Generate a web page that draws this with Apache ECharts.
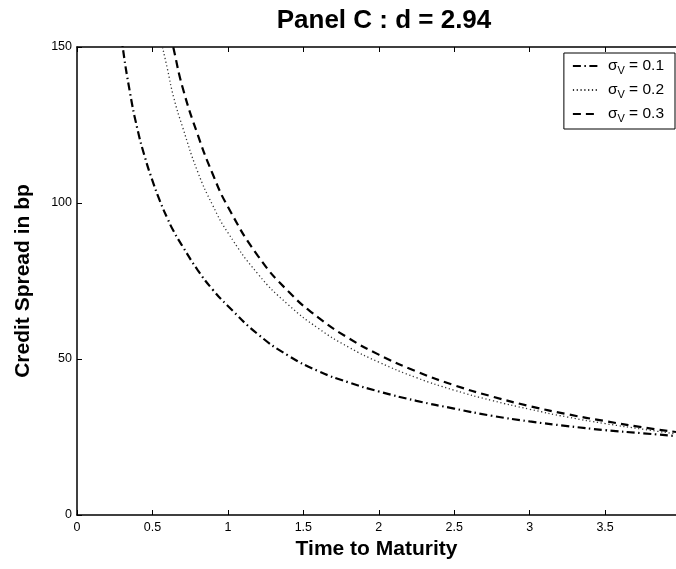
<!DOCTYPE html>
<html>
<head>
<meta charset="utf-8">
<script src="https://cdn.jsdelivr.net/npm/echarts@6/dist/echarts.min.js"></script>
<style>
  html, body { margin: 0; padding: 0; background: #fff; }
  #chart { width: 676px; height: 569px; }
</style>
</head>
<body>
<div id="chart"></div>
<script>
// time to maturity (years) and credit spreads (bp)
const maturity = [0.25, 0.3, 0.35, 0.4, 0.45, 0.5, 0.55, 0.6, 0.64, 0.7, 0.8, 0.9, 1.0, 1.2, 1.4,
    1.6, 1.8, 2.0, 2.25, 2.5, 2.75, 3.0, 3.25, 3.5, 3.75, 3.97];
const spreadSigma01 = [170, 151, 135.7, 123.8, 114.7, 107.2, 100.6, 95, 91, 86.1, 78.5, 72.2, 67, 57.9, 51.1,
    46.1, 42.5, 39.6, 36.6, 34.1, 31.8, 30, 28.5, 27.2, 26.2, 25.3];
const spreadSigma02 = [null, null, null, null, null, 168, 154, 142.8, 134, 124.3, 110, 99.2, 90.5, 77.2, 67.4,
    59.8, 53.8, 49, 44, 40, 36.7, 33.9, 31.4, 29.3, 27.5, 26.0];
const spreadSigma03 = [null, null, null, null, null, null, null, 158, 149.5, 137, 121.9, 109.2, 98.8, 83, 71.7,
    63.25, 56.7, 51.4, 46, 41.6, 38, 34.9, 32.3, 30.1, 28.1, 26.6];
const xTicks = [0, 0.5, 1, 1.5, 2, 2.5, 3, 3.5];

const chart = echarts.init(document.getElementById('chart'));

function pairs(values) {
    const out = [];
    maturity.forEach(function (t, i) {
        if (values[i] != null) out.push([t, values[i]]);
    });
    return out;
}

const font = 'Liberation Sans, Arial, sans-serif';
const legendRich = {
    s: { fontSize: 15.5, fontFamily: font, color: '#000', lineHeight: 17, padding: [0, 0, 0, 5] },
    sub: { fontSize: 11, fontFamily: font, color: '#000', padding: [9, 0, 0, 0] },
    t: { fontSize: 15.5, fontFamily: font, color: '#000', lineHeight: 17 }
};

const option = {
    animation: false,
    backgroundColor: '#fff',
    title: {
        text: 'Panel C : d = 2.94',
        left: 379,
        textAlign: 'center',
        top: 3,
        textStyle: { fontFamily: font, fontWeight: 'bold', fontSize: 26, color: '#000' }
    },
    legend: {
        orient: 'vertical',
        right: 1,
        top: 53,
        itemWidth: 25,
        itemHeight: 10,
        itemGap: 6,
        padding: [5, 11, 5, 8],
        backgroundColor: '#fff',
        borderColor: '#000',
        borderWidth: 1,
        borderRadius: 0,
        itemStyle: { opacity: 0 },
        data: ['0.1', '0.2', '0.3'],
        formatter: function (name) {
            return '{s|σ}{sub|V}{t| = ' + name + '}';
        },
        textStyle: { rich: legendRich }
    },
    grid: { left: 77, top: 47, right: 0, bottom: 54 },
    xAxis: [{
        type: 'value',
        min: 0,
        max: 3.97,
        interval: 0.5,
        name: 'Time to Maturity',
        nameLocation: 'middle',
        nameGap: 22,
        nameTextStyle: { fontFamily: font, fontWeight: 'bold', fontSize: 21, color: '#000', verticalAlign: 'top' },
        axisLine: { lineStyle: { color: '#000', width: 1.5 } },
        axisTick: { inside: true, length: 5, lineStyle: { color: '#000' } },
        axisLabel: {
            showMaxLabel: false,
            margin: 6,
            fontFamily: font,
            fontSize: 12.5,
            color: '#000',
            formatter: function (v) { return xTicks.indexOf(v) >= 0 ? String(v) : ''; }
        },
        splitLine: { show: false }
    }, {
        type: 'value',
        position: 'top',
        min: 0,
        max: 3.97,
        interval: 0.5,
        axisLine: { show: true, lineStyle: { color: '#000', width: 1.5 } },
        axisTick: { inside: true, length: 5, lineStyle: { color: '#000' } },
        axisLabel: { show: false },
        splitLine: { show: false }
    }],
    yAxis: [{
        type: 'value',
        min: 0,
        max: 150,
        interval: 50,
        name: 'Credit Spread in bp',
        nameLocation: 'middle',
        nameGap: 43,
        nameTextStyle: { fontFamily: font, fontWeight: 'bold', fontSize: 21, color: '#000' },
        axisLine: { show: true, lineStyle: { color: '#000', width: 1.5 } },
        axisTick: { show: true, inside: true, length: 5, lineStyle: { color: '#000' } },
        axisLabel: { margin: 5, fontFamily: font, fontSize: 12.5, color: '#000' },
        splitLine: { show: false }
    }],
    series: [{
        name: '0.1',
        type: 'line',
        data: pairs(spreadSigma01),
        smooth: true,
        symbol: 'none',
        clip: true,
        itemStyle: { color: '#000' },
        lineStyle: { color: '#000', width: 2.2, type: [8, 3.5, 1.5, 3.5] }
    }, {
        name: '0.2',
        type: 'line',
        data: pairs(spreadSigma02),
        smooth: true,
        symbol: 'none',
        clip: true,
        itemStyle: { color: '#000' },
        lineStyle: { color: '#333', width: 1.3, type: [1.2, 2.6] }
    }, {
        name: '0.3',
        type: 'line',
        data: pairs(spreadSigma03),
        smooth: true,
        symbol: 'none',
        clip: true,
        itemStyle: { color: '#000' },
        lineStyle: { color: '#000', width: 2.2, type: [8, 5] }
    }]
};

chart.setOption(option);
</script>
</body>
</html>
